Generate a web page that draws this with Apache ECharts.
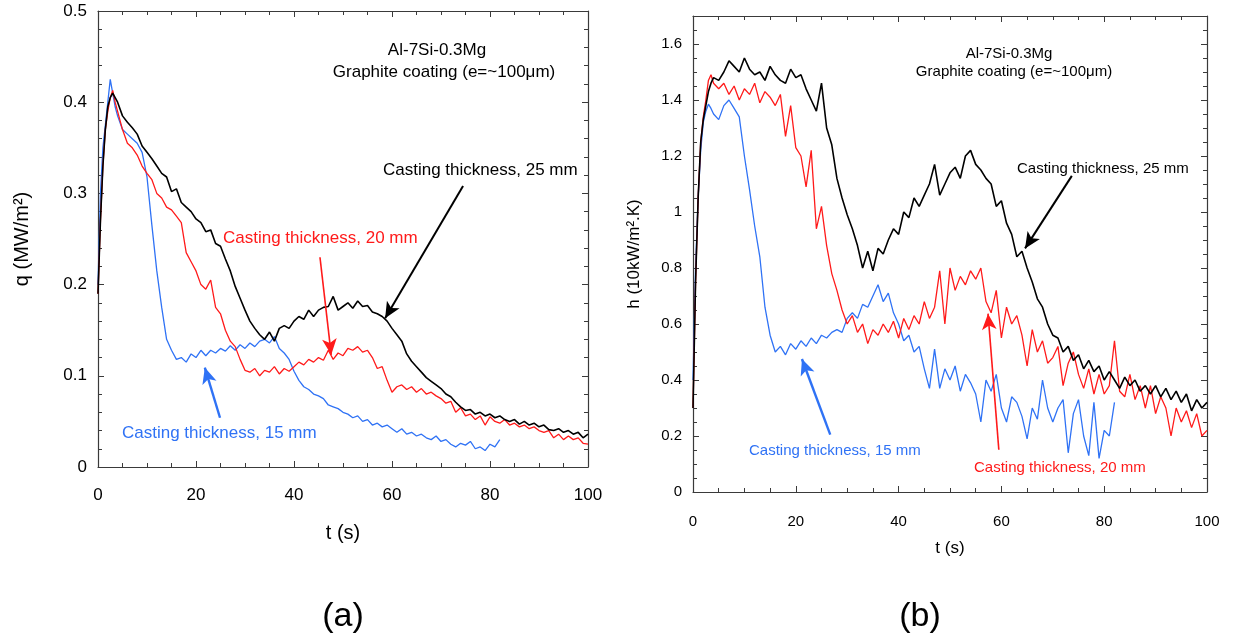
<!DOCTYPE html>
<html>
<head>
<meta charset="utf-8">
<script src="https://cdn.jsdelivr.net/npm/echarts@6/dist/echarts.min.js"></script>
<style>
html,body{margin:0;padding:0;background:#fff;}
#c{width:1233px;height:642px;}
</style>
</head>
<body>
<div id="c"></div>
<script>
// time stamps (s)
const T = [0,0.5,1,1.5,2,2.5,3,3.5,4,
5,6,7,8,9,10,11,12,13,14,
15,16,17,18,19,20,21,22,23,24,
25,26,27,28,29,30,31,32,33,34,
35,36,37,38,39,40,41,42,43,44,
45,46,47,48,49,50,51,52,53,54,
55,56,57,58,59,60,61,62,63,64,
65,66,67,68,69,70,71,72,73,74,
75,76,77,78,79,80,81,82,83,84,
85,86,87,88,89,90,91,92,93,94,
95,96,97,98,99,100];

// (a) heat flux q (MW/m2)
const q25 = [0.19,0.27,0.33,0.37,0.395,0.405,0.41,0.405,0.40,
0.385,0.378,0.372,0.365,0.352,0.345,0.338,0.33,0.322,0.318,
0.302,0.305,0.29,0.285,0.28,0.272,0.268,0.258,0.26,0.245,
0.242,0.228,0.215,0.198,0.185,0.172,0.16,0.152,0.145,0.14,
0.148,0.138,0.152,0.155,0.152,0.16,0.165,0.162,0.172,0.165,
0.172,0.175,0.176,0.187,0.172,0.176,0.18,0.174,0.182,0.176,
0.177,0.17,0.168,0.165,0.16,0.152,0.145,0.138,0.124,0.116,
0.11,0.104,0.098,0.094,0.09,0.086,0.08,0.077,0.071,0.066,
0.062,0.063,0.058,0.06,0.056,0.058,0.054,0.056,0.052,0.05,
0.052,0.047,0.05,0.046,0.048,0.044,0.046,0.041,0.04,0.042,
0.038,0.04,0.036,0.038,0.032,0.036];
const q20 = [0.19,0.27,0.33,0.37,0.39,0.405,0.413,0.40,0.39,
0.37,0.355,0.35,0.342,0.33,0.322,0.315,0.30,0.295,0.285,
0.282,0.275,0.268,0.235,0.225,0.215,0.20,0.195,0.205,0.175,
0.168,0.15,0.138,0.132,0.118,0.106,0.104,0.108,0.10,0.106,
0.104,0.11,0.102,0.108,0.105,0.11,0.115,0.112,0.118,0.115,
0.12,0.117,0.128,0.118,0.125,0.122,0.13,0.128,0.132,0.126,
0.128,0.12,0.108,0.11,0.095,0.082,0.088,0.09,0.085,0.088,
0.082,0.086,0.08,0.082,0.078,0.075,0.07,0.072,0.06,0.065,
0.056,0.058,0.052,0.056,0.046,0.055,0.05,0.048,0.052,0.046,
0.048,0.044,0.046,0.042,0.044,0.04,0.038,0.04,0.032,0.036,
0.03,0.034,0.03,0.032,0.026,0.025];
const q15 = [0.20,0.30,0.35,0.375,0.40,0.425,0.41,0.395,0.385,
0.37,0.365,0.36,0.355,0.345,0.318,0.265,0.215,0.175,0.14,
0.128,0.118,0.12,0.115,0.124,0.12,0.128,0.122,0.128,0.125,
0.13,0.127,0.133,0.128,0.134,0.13,0.136,0.132,0.138,0.14,
0.136,0.143,0.13,0.125,0.118,0.105,0.095,0.088,0.085,0.08,
0.078,0.075,0.068,0.066,0.064,0.06,0.058,0.054,0.056,0.05,
0.052,0.046,0.048,0.044,0.046,0.042,0.038,0.042,0.036,0.038,
0.034,0.036,0.032,0.03,0.034,0.028,0.03,0.025,0.022,0.026,
0.024,0.028,0.02,0.022,0.018,0.025,0.022,0.03];

// (b) heat transfer coefficient h (10kW/m2.K)
const h25 = [0.3,0.75,1.05,1.25,1.33,1.38,1.43,1.46,1.48,
1.47,1.50,1.54,1.52,1.50,1.55,1.51,1.49,1.50,1.47,
1.52,1.49,1.47,1.46,1.51,1.48,1.49,1.44,1.40,1.36,
1.46,1.30,1.24,1.12,1.05,0.99,0.94,0.88,0.80,0.86,
0.79,0.87,0.85,0.90,0.94,0.92,1.00,0.98,1.05,1.02,
1.06,1.10,1.17,1.06,1.10,1.14,1.16,1.12,1.20,1.22,
1.17,1.15,1.12,1.10,1.02,1.04,0.96,0.92,0.84,0.86,
0.80,0.75,0.69,0.66,0.60,0.56,0.55,0.50,0.52,0.47,
0.49,0.44,0.47,0.43,0.45,0.40,0.43,0.40,0.37,0.41,
0.38,0.40,0.36,0.38,0.35,0.38,0.34,0.37,0.33,0.36,
0.32,0.35,0.29,0.33,0.30,0.32];
const h20 = [0.3,0.75,1.05,1.25,1.34,1.40,1.47,1.49,1.46,
1.44,1.46,1.42,1.45,1.40,1.44,1.42,1.46,1.39,1.43,
1.41,1.38,1.42,1.27,1.38,1.23,1.20,1.09,1.22,0.94,
1.02,0.88,0.78,0.72,0.65,0.60,0.63,0.57,0.60,0.53,
0.58,0.56,0.60,0.57,0.61,0.55,0.62,0.58,0.63,0.60,
0.68,0.62,0.66,0.79,0.60,0.80,0.72,0.77,0.74,0.79,
0.76,0.80,0.68,0.64,0.72,0.55,0.66,0.60,0.63,0.56,
0.45,0.58,0.50,0.54,0.46,0.48,0.52,0.38,0.46,0.50,
0.42,0.37,0.44,0.35,0.42,0.35,0.38,0.54,0.36,0.34,
0.42,0.33,0.38,0.30,0.38,0.28,0.34,0.30,0.20,0.30,
0.25,0.29,0.23,0.28,0.20,0.22];
const h15 = [0.4,0.8,1.05,1.22,1.32,1.36,1.385,1.37,1.35,
1.33,1.38,1.40,1.37,1.34,1.20,1.08,0.95,0.84,0.66,
0.56,0.50,0.52,0.49,0.53,0.51,0.54,0.52,0.55,0.53,
0.56,0.55,0.57,0.58,0.57,0.62,0.64,0.62,0.67,0.66,
0.70,0.74,0.68,0.71,0.64,0.60,0.54,0.56,0.50,0.52,
0.44,0.37,0.51,0.37,0.44,0.40,0.45,0.36,0.42,0.39,
0.35,0.25,0.40,0.36,0.42,0.30,0.25,0.34,0.32,0.27,
0.19,0.30,0.26,0.40,0.30,0.25,0.30,0.33,0.14,0.28,
0.33,0.20,0.13,0.32,0.12,0.22,0.20,0.32];

// labels
const seriesNames = ['Casting thickness, 25 mm','Casting thickness, 20 mm','Casting thickness, 15 mm'];
const colors = ['#000000','#ff1a1a','#2f72f5'];
const noteLines = ['Al-7Si-0.3Mg','Graphite coating (e=~100\u03bcm)'];
const xName = 't (s)';
const yNameA = 'q (MW/m\u00b2)';
const yNameB = 'h (10kW/m\u00b2.K)';
const panelLabels = ['(a)','(b)'];

// arrow endpoints in data units [t, value]
const arrowsA = [[[74.5,0.308],[58.6,0.163]],[[45.3,0.230],[47.6,0.123]],[[24.9,0.054],[21.8,0.109]]];
const arrowsB = [[[73.7,1.129],[64.6,0.870]],[[59.5,0.151],[57.4,0.637]],[[26.7,0.205],[21.2,0.475]]];

function pairs(vals){ return vals.map((v,i)=>[T[i], v]); }

const FONT = '"Liberation Sans", Arial, sans-serif';
const axisColor = '#3a3a3a';

function mkX(gridIndex, pos, fs, nfs, showLabel, nameGap, margin){
  return {
    type:'value', gridIndex, position:pos, min:0, max:100, interval:20,
    name: showLabel ? xName : '', nameLocation:'middle', nameGap: nameGap,
    nameTextStyle:{fontFamily:FONT, fontSize: nfs, color:'#000'},
    axisLine:{show:true, onZero:false, lineStyle:{color:axisColor, width:1.2}},
    axisTick:{show:true, inside:true, length:6, lineStyle:{color:axisColor}},
    minorTick:{show:true, splitNumber:4, length:4, lineStyle:{color:axisColor}},
    axisLabel:{show:showLabel, margin: margin, fontFamily:FONT, fontSize:fs, color:'#000'},
    splitLine:{show:false}
  };
}
function mkY(gridIndex, pos, max, interval, minorSplit, fs, nfs, showLabel, name, nameGap, showMax){
  return {
    type:'value', gridIndex, position:pos, min:0, max, interval,
    name: showLabel ? name : '', nameLocation:'middle', nameGap: nameGap, nameRotate:90,
    nameTextStyle:{fontFamily:FONT, fontSize: nfs, color:'#000'},
    axisLine:{show:true, onZero:false, lineStyle:{color:axisColor, width:1.2}},
    axisTick:{show:true, inside:true, length:6, lineStyle:{color:axisColor}},
    minorTick:{show:true, splitNumber:minorSplit, length:4, lineStyle:{color:axisColor}},
    axisLabel:{show:showLabel, showMaxLabel:showMax, margin:11, fontFamily:FONT, fontSize:fs, color:'#000'},
    splitLine:{show:false}
  };
}

function arrowLine(arr, color, width){
  return {
    silent:true, symbol:['none','arrow'], symbolSize:[11,16], animation:false,
    label:{show:false},
    lineStyle:{color, width, type:'solid'},
    emphasis:{disabled:true},
    data: arr.map(([a,b]) => [{coord:a},{coord:b}])
  };
}

const srcA = [q25, q20, q15];
const srcB = [h25, h20, h15];
const widths = [1.6, 1.3, 1.3];
const arrowW = [2, 1.6, 2.4];
const order = [2,1,0];

const series = [];
order.forEach(k => {
  series.push({
    type:'line', name:seriesNames[k], xAxisIndex:0, yAxisIndex:0,
    data: pairs(srcA[k]), symbol:'none', showSymbol:false, smooth:false,
    lineStyle:{color:colors[k], width:widths[k]}, z: 3,
    markLine: arrowLine([arrowsA[k]], colors[k], arrowW[k])
  });
});
order.forEach(k => {
  series.push({
    type:'line', name:seriesNames[k], xAxisIndex:2, yAxisIndex:2,
    data: pairs(srcB[k]), symbol:'none', showSymbol:false, smooth:false,
    lineStyle:{color:colors[k], width:widths[k]}, z: 3,
    markLine: arrowLine([arrowsB[k]], colors[k], arrowW[k])
  });
});

function txt(x, y, s, color, fs, align){
  return {type:'text', x, y, style:{text:s, fill:color, font: fs+'px '+FONT, textAlign:align||'left', textVerticalAlign:'middle'}, silent:true};
}

const graphics = [
  txt(437, 50, noteLines[0], '#000', 17, 'center'),
  txt(444, 72, noteLines[1], '#000', 17, 'center'),
  txt(383, 170, seriesNames[0], colors[0], 17),
  txt(223, 238, seriesNames[1], colors[1], 17),
  txt(122, 433, seriesNames[2], colors[2], 17),
  txt(1009, 54, noteLines[0], '#000', 15, 'center'),
  txt(1014, 72, noteLines[1], '#000', 15, 'center'),
  txt(1017, 169, seriesNames[0], colors[0], 15),
  txt(749, 451, seriesNames[2], colors[2], 15),
  txt(974, 468, seriesNames[1], colors[1], 15),
  txt(343, 617, panelLabels[0], '#000', 34, 'center'),
  txt(920, 617, panelLabels[1], '#000', 34, 'center')
];

const chart = echarts.init(document.getElementById('c'), null, {renderer:'canvas'});
chart.setOption({
  animation:false,
  backgroundColor:'#fff',
  grid:[
    {left:98, top:11, width:490, height:456},
    {left:693, top:16, width:514, height:476}
  ],
  xAxis:[
    mkX(0,'bottom',17,20,true,56,20),
    mkX(0,'top',17,20,false,0,0),
    mkX(1,'bottom',15,17,true,48,22),
    mkX(1,'top',15,17,false,0,0)
  ],
  yAxis:[
    mkY(0,'left',0.5,0.1,5,17,20,true,yNameA,66,true),
    mkY(0,'right',0.5,0.1,5,17,20,false,'',0,true),
    mkY(1,'left',1.7,0.2,4,15,17,true,yNameB,50,false),
    mkY(1,'right',1.7,0.2,4,15,17,false,'',0,false)
  ],
  series,
  graphic: graphics
});
</script>
</body>
</html>
